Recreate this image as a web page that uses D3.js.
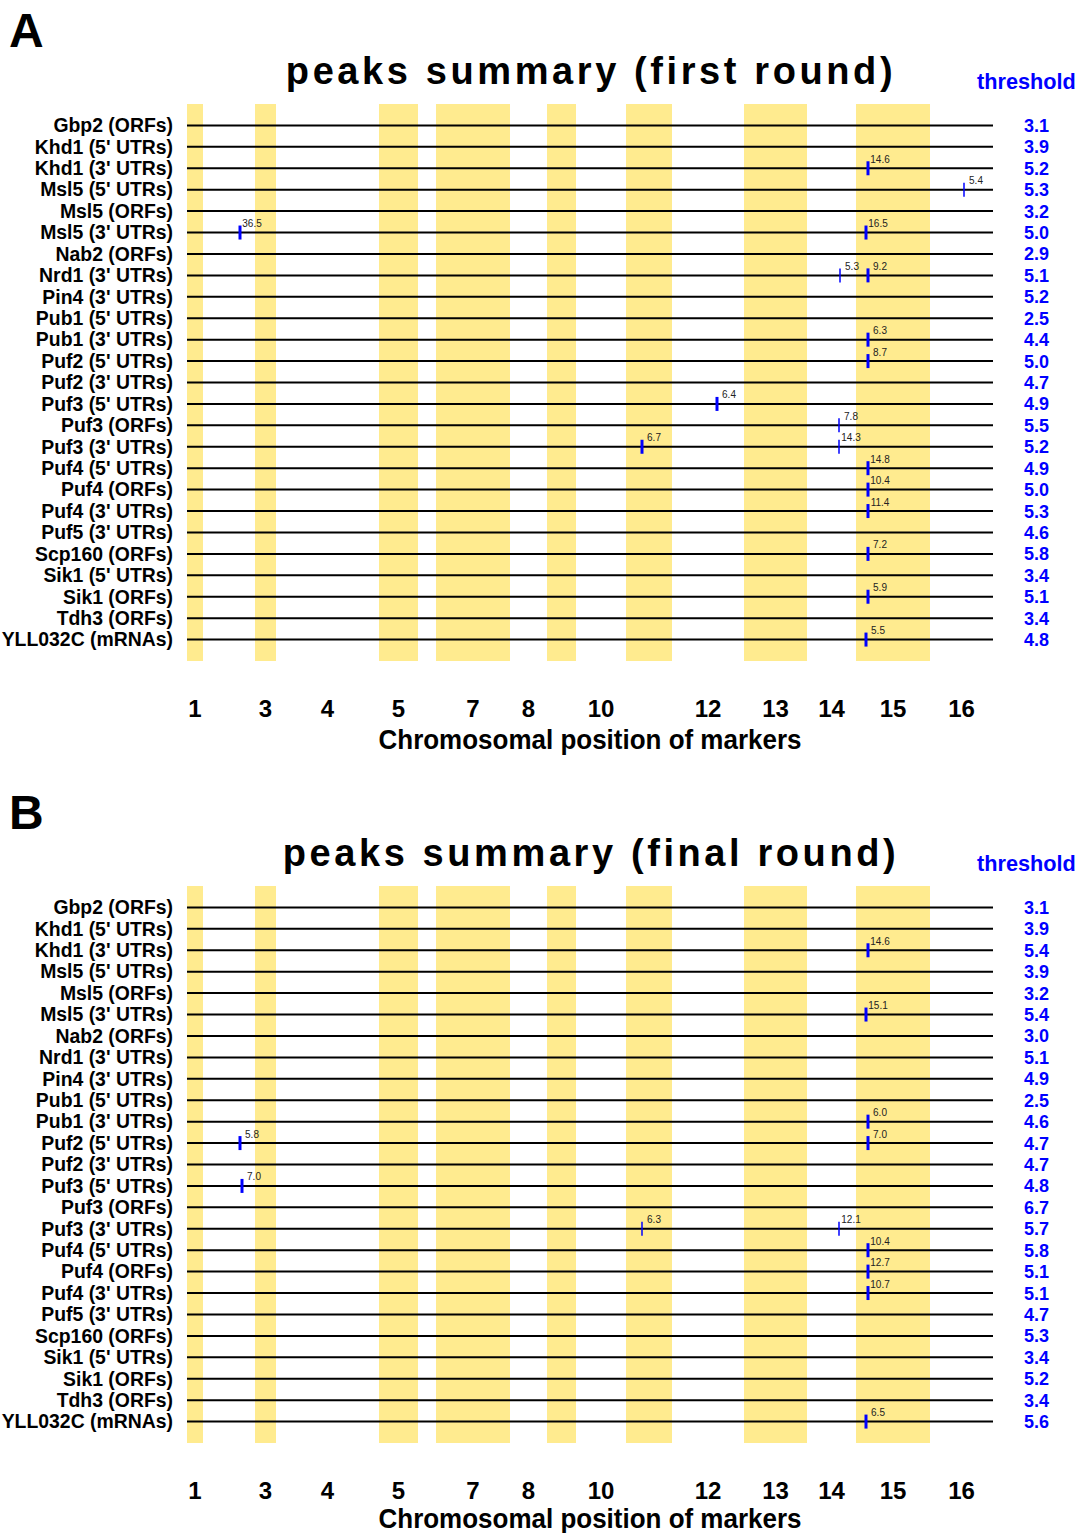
<!DOCTYPE html>
<html>
<head>
<meta charset="utf-8">
<script src="https://cdn.jsdelivr.net/npm/d3@7"></script>
<style>
  body { margin: 0; background: #fff; }
  svg { display: block; font-family: "Liberation Sans", Arial, Helvetica, sans-serif; }
</style>
</head>
<body>
<svg id="chart" width="1077" height="1533"></svg>
<script>
// Probe sets (rows), top to bottom
const probes = [
  "Gbp2 (ORFs)", "Khd1 (5' UTRs)", "Khd1 (3' UTRs)", "Msl5 (5' UTRs)", "Msl5 (ORFs)",
  "Msl5 (3' UTRs)", "Nab2 (ORFs)", "Nrd1 (3' UTRs)", "Pin4 (3' UTRs)", "Pub1 (5' UTRs)",
  "Pub1 (3' UTRs)", "Puf2 (5' UTRs)", "Puf2 (3' UTRs)", "Puf3 (5' UTRs)", "Puf3 (ORFs)",
  "Puf3 (3' UTRs)", "Puf4 (5' UTRs)", "Puf4 (ORFs)", "Puf4 (3' UTRs)", "Puf5 (3' UTRs)",
  "Scp160 (ORFs)", "Sik1 (5' UTRs)", "Sik1 (ORFs)", "Tdh3 (ORFs)", "YLL032C (mRNAs)"
];

// Number of markers on each of the 16 chromosomes
const markersPerChr = [16, 52, 21, 103, 39, 18, 74, 37, 29, 50, 46, 72, 63, 49, 74, 63];
// Chromosomes that get a label under the axis
const chrLabels = [1, 3, 4, 5, 7, 8, 10, 12, 13, 14, 15, 16];

// Significance thresholds per probe set
const thresholdFirst = [3.1, 3.9, 5.2, 5.3, 3.2, 5.0, 2.9, 5.1, 5.2, 2.5, 4.4, 5.0, 4.7,
                        4.9, 5.5, 5.2, 4.9, 5.0, 5.3, 4.6, 5.8, 3.4, 5.1, 3.4, 4.8];
const thresholdFinal = [3.1, 3.9, 5.4, 3.9, 3.2, 5.4, 3.0, 5.1, 4.9, 2.5, 4.6, 4.7, 4.7,
                        4.8, 6.7, 5.7, 5.8, 5.1, 5.1, 4.7, 5.3, 3.4, 5.2, 3.4, 5.6];

// Peaks: probe set, genome-wide marker index, LOD score, markers spanned
const peaksFirst = [
  { probe: "Khd1 (3' UTRs)", marker: 681, lod: 14.6, span: 2 },
  { probe: "Msl5 (5' UTRs)", marker: 777, lod: 5.4, span: 1 },
  { probe: "Msl5 (3' UTRs)", marker: 53, lod: 36.5, span: 2 },
  { probe: "Msl5 (3' UTRs)", marker: 679, lod: 16.5, span: 2 },
  { probe: "Nrd1 (3' UTRs)", marker: 653, lod: 5.3, span: 1 },
  { probe: "Nrd1 (3' UTRs)", marker: 681, lod: 9.2, span: 2 },
  { probe: "Pub1 (3' UTRs)", marker: 681, lod: 6.3, span: 2 },
  { probe: "Puf2 (5' UTRs)", marker: 681, lod: 8.7, span: 2 },
  { probe: "Puf3 (5' UTRs)", marker: 530, lod: 6.4, span: 2 },
  { probe: "Puf3 (ORFs)", marker: 652, lod: 7.8, span: 1 },
  { probe: "Puf3 (3' UTRs)", marker: 455, lod: 6.7, span: 2 },
  { probe: "Puf3 (3' UTRs)", marker: 652, lod: 14.3, span: 1 },
  { probe: "Puf4 (5' UTRs)", marker: 681, lod: 14.8, span: 2 },
  { probe: "Puf4 (ORFs)", marker: 681, lod: 10.4, span: 2 },
  { probe: "Puf4 (3' UTRs)", marker: 681, lod: 11.4, span: 2 },
  { probe: "Scp160 (ORFs)", marker: 681, lod: 7.2, span: 2 },
  { probe: "Sik1 (ORFs)", marker: 681, lod: 5.9, span: 2 },
  { probe: "YLL032C (mRNAs)", marker: 679, lod: 5.5, span: 2 }
];
const peaksFinal = [
  { probe: "Khd1 (3' UTRs)", marker: 681, lod: 14.6, span: 2 },
  { probe: "Msl5 (3' UTRs)", marker: 679, lod: 15.1, span: 2 },
  { probe: "Pub1 (3' UTRs)", marker: 681, lod: 6.0, span: 2 },
  { probe: "Puf2 (5' UTRs)", marker: 53, lod: 5.8, span: 2 },
  { probe: "Puf2 (5' UTRs)", marker: 681, lod: 7.0, span: 2 },
  { probe: "Puf3 (5' UTRs)", marker: 55, lod: 7.0, span: 2 },
  { probe: "Puf3 (3' UTRs)", marker: 455, lod: 6.3, span: 1 },
  { probe: "Puf3 (3' UTRs)", marker: 652, lod: 12.1, span: 1 },
  { probe: "Puf4 (5' UTRs)", marker: 681, lod: 10.4, span: 2 },
  { probe: "Puf4 (ORFs)", marker: 681, lod: 12.7, span: 2 },
  { probe: "Puf4 (3' UTRs)", marker: 681, lod: 10.7, span: 2 },
  { probe: "YLL032C (mRNAs)", marker: 679, lod: 6.5, span: 2 }
];

const panels = [
  { letter: "A", title: "peaks summary (first round)", thresholds: thresholdFirst, peaks: peaksFirst, top: 0, axisTitleY: 749 },
  { letter: "B", title: "peaks summary (final round)", thresholds: thresholdFinal, peaks: peaksFinal, top: 782, axisTitleY: 746 }
];

const svg = d3.select("#chart");
const totalMarkers = d3.sum(markersPerChr);
const chrStart = d3.cumsum([0, ...markersPerChr.slice(0, -1)]);
const chromosomes = markersPerChr.map((n, i) => ({ chr: i + 1, start: chrStart[i], end: chrStart[i] + n }));

const x = d3.scaleLinear().domain([0, totalMarkers]).range([187, 993]);
const y = d3.scalePoint().domain(probes).range([104, 661]).padding(1);
const tickWidth = d3.scaleLinear().domain([1, 2]).range([1.5, 3]);

const yellow = "#ffeb8f";
const blue = "#0000ff";

panels.forEach(p => {
  const g = svg.append("g").attr("transform", `translate(0,${p.top})`);

  // panel letter
  g.append("text").attr("x", 9).attr("y", 47)
    .attr("font-size", 48).attr("font-weight", "bold").text(p.letter);

  // title
  g.append("text").attr("x", 591).attr("y", 84)
    .attr("text-anchor", "middle").attr("font-size", 38).attr("font-weight", "bold")
    .attr("letter-spacing", 3.6).text(p.title);

  g.append("text").attr("x", 977).attr("y", 89)
    .attr("font-size", 21.7).attr("font-weight", "bold").attr("fill", blue).text("threshold");

  // odd chromosomes shaded
  g.append("g").selectAll("rect")
    .data(chromosomes.filter(c => c.chr % 2 === 1))
    .join("rect")
    .attr("x", d => x(d.start)).attr("width", d => x(d.end) - x(d.start))
    .attr("y", 104).attr("height", 557)
    .attr("fill", yellow);

  // one line per probe set
  g.append("g").selectAll("line")
    .data(probes)
    .join("line")
    .attr("x1", x(0)).attr("x2", x(totalMarkers))
    .attr("y1", d => y(d)).attr("y2", d => y(d))
    .attr("stroke", "#000").attr("stroke-width", 2);

  // probe names
  g.append("g").selectAll("text")
    .data(probes)
    .join("text")
    .attr("x", 173).attr("y", d => y(d) + 6.8)
    .attr("text-anchor", "end").attr("font-size", 19.4).attr("font-weight", "bold")
    .text(d => d);

  // thresholds
  g.append("g").selectAll("text")
    .data(p.thresholds)
    .join("text")
    .attr("x", 1024).attr("y", (d, i) => y(probes[i]) + 6.5)
    .attr("font-size", 18).attr("font-weight", "bold").attr("fill", blue)
    .text(d => d.toFixed(1));

  // peaks
  const pk = g.append("g").selectAll("g")
    .data(p.peaks)
    .join("g")
    .attr("transform", d => `translate(${x(d.marker)},${y(d.probe)})`);
  pk.append("line")
    .attr("y1", -7).attr("y2", 7)
    .attr("stroke", blue).attr("stroke-width", d => tickWidth(d.span));
  pk.append("text")
    .attr("x", 12).attr("y", -5.5).attr("text-anchor", "middle")
    .attr("font-size", 10).attr("fill", "#222")
    .text(d => d.lod.toFixed(1));

  // chromosome axis
  const chrCenter = c => x((chromosomes[c - 1].start + chromosomes[c - 1].end) / 2);
  g.append("g").selectAll("text")
    .data(chrLabels)
    .join("text")
    .attr("x", d => chrCenter(d)).attr("y", 717)
    .attr("text-anchor", "middle").attr("font-size", 24).attr("font-weight", "bold")
    .text(d => d);

  g.append("text").attr("x", 590).attr("y", p.axisTitleY)
    .attr("text-anchor", "middle").attr("font-size", 27).attr("font-weight", "bold")
    .attr("textLength", 423).attr("lengthAdjust", "spacingAndGlyphs")
    .text("Chromosomal position of markers");
});
</script>
</body>
</html>
